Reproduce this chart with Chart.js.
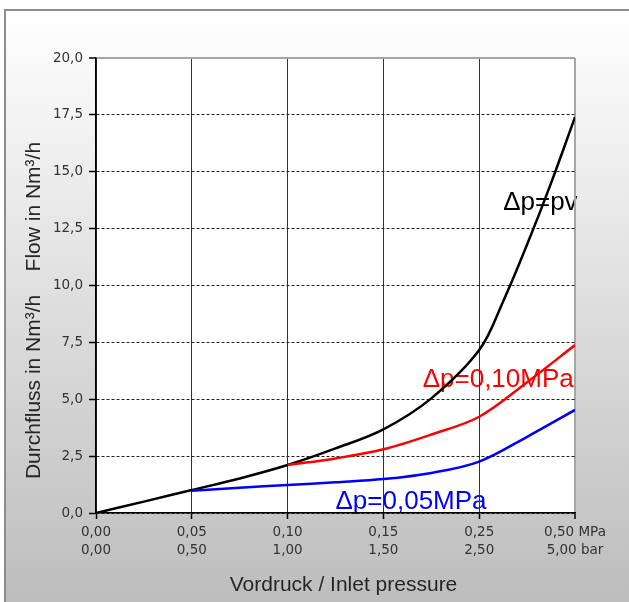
<!DOCTYPE html>
<html>
<head>
<meta charset="utf-8">
<script src="https://cdn.jsdelivr.net/npm/chart.js@4.4.0/dist/chart.umd.min.js"></script>
<style>
  html, body { margin: 0; padding: 0; background: #fff; overflow: hidden; }
  #frame { position: absolute; left: 4px; top: 9px; width: 700px; height: 700px;
    border: 2px solid #8c8c8c; background: linear-gradient(#ffffff 0px, #bdbdbd 591px); }
  #wrap { position: absolute; left: 0; top: 0; width: 629px; height: 602px; }
</style>
</head>
<body>
<div id="frame"></div>
<div id="wrap"><canvas id="flowChart"></canvas></div>
<script>
'use strict';

// x axis: evenly spaced pressure steps, two label rows
const mpaLabels = ['0,00', '0,05', '0,10', '0,15', '0,25', '0,50 MPa'];
const barLabels = ['0,00', '0,50', '1,00', '1,50', '2,50', '5,00 bar'];
const yTickLabels = ['0,0', '2,5', '5,0', '7,5', '10,0', '12,5', '15,0', '17,5', '20,0'];

// curves, x = position on the pressure axis (0 .. 5)
const pvPos  = [0, 0.5, 1, 1.5, 2, 2.5, 3, 3.5, 4, 4.25, 4.5, 4.75, 5];
const pvFlow = [0, 0.5, 1.01, 1.52, 2.11, 2.84, 3.68, 5.04, 7.16, 9.3, 11.8, 14.5, 17.4];

const dp10Pos  = [2, 2.5, 3, 3.5, 4, 4.5, 5];
const dp10Flow = [2.11, 2.4, 2.8, 3.45, 4.23, 5.75, 7.38];

const dp05Pos  = [1, 1.5, 2, 2.5, 3, 3.5, 4, 4.5, 5];
const dp05Flow = [0.98, 1.11, 1.23, 1.35, 1.49, 1.76, 2.26, 3.35, 4.53];

const xTitle = 'Vordruck / Inlet pressure';
const yTitle = 'Durchfluss in Nm³/h    Flow in Nm³/h';

// curve names written inside the plot (anchor = left end of baseline)
const curveLabels = [
  { text: 'Δp=pv', x: 4.25, y: 13.32, color: '#000000' },
  { text: 'Δp=0,10MPa', x: 3.41, y: 5.55, color: '#ff0000' },
  { text: 'Δp=0,05MPa', x: 2.5, y: 0.18, color: '#0000ff' }
];

function toPoints(xs, ys) {
  return xs.map((v, i) => ({ x: v, y: ys[i] }));
}

const isTop = c => c.tick && c.tick.value === 20;

const plotExtras = {
  id: 'plotExtras',
  beforeDraw(chart) {
    const { ctx, chartArea: a, scales: { x, y } } = chart;
    ctx.save();
    ctx.fillStyle = '#ffffff';
    ctx.fillRect(a.left, a.top, a.right - a.left, a.bottom - a.top);

    ctx.font = '26px "Liberation Sans", Arial, sans-serif';
    ctx.textAlign = 'left';
    ctx.textBaseline = 'alphabetic';
    curveLabels.forEach(l => {
      ctx.fillStyle = l.color;
      ctx.fillText(l.text, x.getPixelForValue(l.x), y.getPixelForValue(l.y));
    });

    ctx.fillStyle = '#262626';
    ctx.font = '21px "Liberation Sans", Arial, sans-serif';
    ctx.textAlign = 'center';
    ctx.textBaseline = 'middle';
    ctx.fillText(xTitle, (a.left + a.right) / 2 + 8, 585);
    ctx.translate(34, (a.top + a.bottom) / 2 + 25);
    ctx.rotate(-Math.PI / 2);
    ctx.fillText(yTitle, 0, 0);
    ctx.restore();
  }
};

const tickFont = { family: '"DejaVu Sans", sans-serif', size: 13.5, lineHeight: 1.38 };

new Chart(document.getElementById('flowChart').getContext('2d'), {
  type: 'line',
  data: {
    datasets: [
      { label: 'Δp=0,05MPa', data: toPoints(dp05Pos, dp05Flow), borderColor: '#0000ff' },
      { label: 'Δp=0,10MPa', data: toPoints(dp10Pos, dp10Flow), borderColor: '#ff0000' },
      { label: 'Δp=pv', data: toPoints(pvPos, pvFlow), borderColor: '#000000' }
    ]
  },
  options: {
    responsive: true,
    maintainAspectRatio: false,
    animation: false,
    layout: { padding: { left: 10, right: 54, top: 58, bottom: 0 } },
    elements: {
      line: { borderWidth: 2.5, tension: 0.35, fill: false },
      point: { radius: 0 }
    },
    plugins: { legend: { display: false }, tooltip: { enabled: false } },
    scales: {
      x: {
        type: 'linear',
        min: 0,
        max: 5,
        afterFit: s => { s.height = 89; },
        ticks: {
          stepSize: 1,
          autoSkip: false,
          maxRotation: 0,
          padding: 4,
          color: '#333333',
          font: tickFont,
          callback: v => [mpaLabels[Math.round(v)], barLabels[Math.round(v)]]
        },
        grid: {
          color: c => c.index === 5 ? '#a6a6a6' : '#333333',
          lineWidth: c => c.index === 5 ? 2 : 1,
          tickColor: '#000',
          tickLength: 6,
          tickWidth: 1.5
        },
        border: { color: '#000', width: 1.5 }
      },
      y: {
        min: 0,
        max: 20,
        afterFit: s => { s.width = 86; },
        ticks: {
          stepSize: 2.5,
          padding: 6,
          color: '#333333',
          font: tickFont,
          callback: (v, i) => yTickLabels[i]
        },
        grid: {
          color: c => isTop(c) ? '#a6a6a6' : '#222222',
          lineWidth: c => isTop(c) ? 2 : 1,
          tickColor: '#000',
          tickLength: 7,
          tickWidth: 1.5,
          tickBorderDash: []
        },
        border: { color: '#000', width: 1.5, dash: c => isTop(c) ? [] : [3, 2] }
      }
    }
  },
  plugins: [plotExtras]
});
</script>
</body>
</html>
